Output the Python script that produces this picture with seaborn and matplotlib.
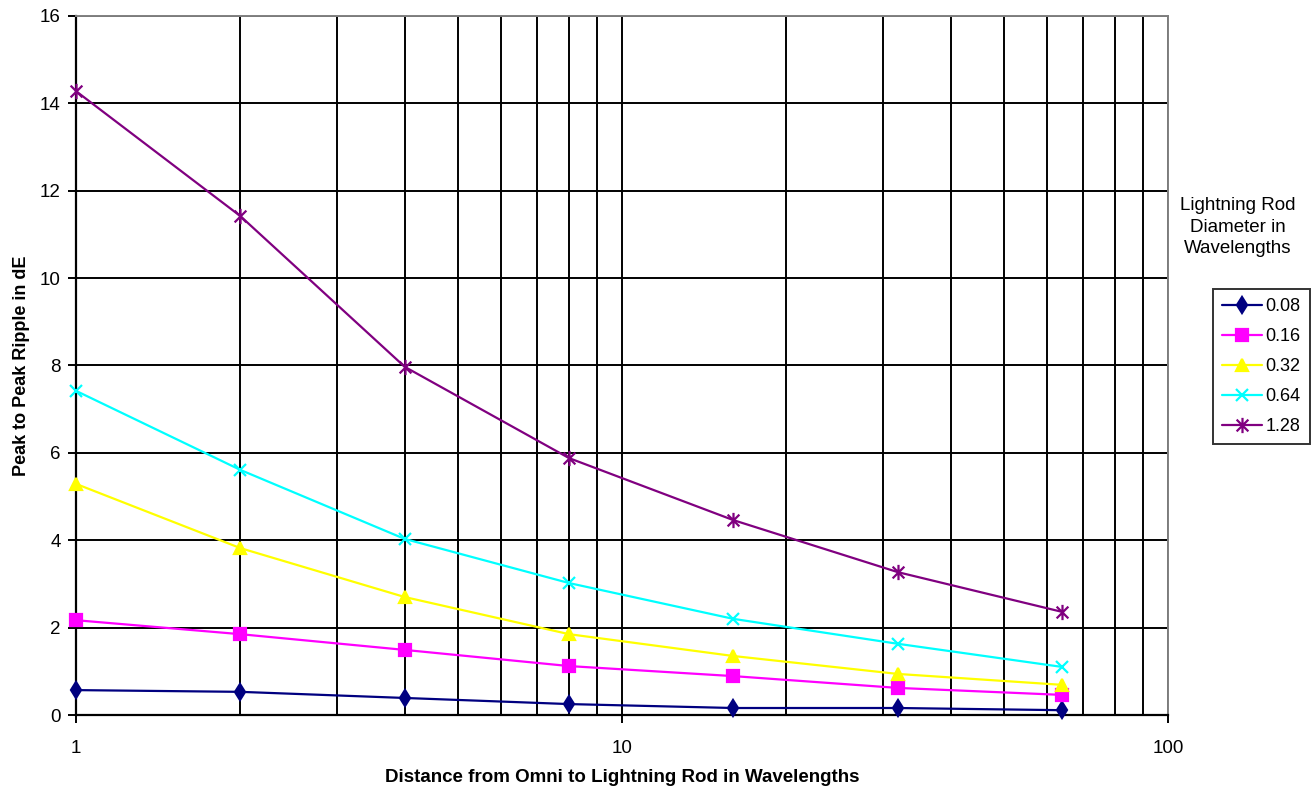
import numpy as np
import pandas as pd
import matplotlib
matplotlib.use("Agg")
import matplotlib.pyplot as plt
from matplotlib.path import Path
import seaborn as sns

distance = [1, 2, 4, 8, 16, 32, 64]
diameters = ["0.08", "0.16", "0.32", "0.64", "1.28"]
ripple_008 = [0.57, 0.53, 0.39, 0.25, 0.16, 0.16, 0.11]
ripple_016 = [2.17, 1.85, 1.49, 1.12, 0.89, 0.62, 0.46]
ripple_032 = [5.29, 3.82, 2.70, 1.85, 1.35, 0.94, 0.69]
ripple_064 = [7.42, 5.61, 4.03, 3.02, 2.20, 1.63, 1.10]
ripple_128 = [14.28, 11.42, 7.97, 5.88, 4.46, 3.27, 2.36]
y_ticks = [0, 2, 4, 6, 8, 10, 12, 14, 16]
x_tick_labels = ["1", "10", "100"]

series = [ripple_008, ripple_016, ripple_032, ripple_064, ripple_128]

sns.set_theme(style="white")
plt.rcParams["font.family"] = ["Liberation Sans", "DejaVu Sans"]
plt.rcParams["text.color"] = "black"
plt.rcParams["axes.labelcolor"] = "black"
plt.rcParams["xtick.color"] = "black"
plt.rcParams["ytick.color"] = "black"

# Excel-style star marker: X with a vertical bar
star = Path([(-1, -1), (1, 1), (-1, 1), (1, -1), (0, -1.3), (0, 1.3)],
            [Path.MOVETO, Path.LINETO, Path.MOVETO, Path.LINETO, Path.MOVETO, Path.LINETO])

colors = ["#000080", "#FF00FF", "#FFFF00", "#00FFFF", "#800080"]
markers = ["d", "s", "^", "x", star]
msizes = [8, 8, 9, 9, 11]

fig = plt.figure(figsize=(13.16, 7.90), dpi=100)
ax = fig.add_axes([76/1316, 75/790, (1168-76)/1316, (715-16)/790])

for d, vals, c, m, ms in zip(diameters, series, colors, markers, msizes):
    df = pd.DataFrame({"Distance": distance, "Ripple": vals})
    sns.lineplot(data=df, x="Distance", y="Ripple", color=c, marker=m,
                 markersize=ms, markeredgewidth=1.6, markeredgecolor=c,
                 markerfacecolor=c, linewidth=1.6, label=d, ax=ax, zorder=3,
                 clip_on=False)

ax.set_xscale("log")
ax.set_xlim(1, 100)
ax.set_ylim(0, 16)
ax.set_yticks(y_ticks)
ax.set_xticks([1, 10, 100])
ax.set_xticklabels(x_tick_labels)
ax.xaxis.set_minor_locator(matplotlib.ticker.LogLocator(base=10, subs=np.arange(2, 10)))
ax.xaxis.set_minor_formatter(matplotlib.ticker.NullFormatter())

ax.grid(True, which="both", axis="x", color="black", linewidth=1.4)
ax.grid(True, which="major", axis="y", color="black", linewidth=1.4)
ax.set_axisbelow(True)

for s in ["left", "bottom"]:
    ax.spines[s].set_color("black")
    ax.spines[s].set_linewidth(1.6)
for s in ["top", "right"]:
    ax.spines[s].set_color("#808080")
    ax.spines[s].set_linewidth(1.4)

ax.tick_params(axis="both", which="major", direction="out", length=6, width=1.4,
               color="black", labelsize=13.5, bottom=True, left=True)
ax.tick_params(axis="x", which="major", pad=12)
ax.tick_params(axis="y", which="major", pad=5)
ax.tick_params(axis="x", which="minor", length=0)

ax.set_xlabel("Distance from Omni to Lightning Rod in Wavelengths",
              fontsize=13.5, fontweight="bold", labelpad=9)
ax.set_ylabel("Peak to Peak Ripple in dE", fontsize=13, fontweight="bold", labelpad=7)

handles, labels = ax.get_legend_handles_labels()
ax.legend_.remove()
leg = fig.legend(handles, labels, loc="upper left", bbox_to_anchor=(1213/1316, 1 - 289/790),
                 frameon=True, fancybox=False, edgecolor="black", fontsize=13,
                 handlelength=2.2, handletextpad=0.2, borderpad=0.5, labelspacing=0.72,
                 borderaxespad=0)
leg.get_frame().set_linewidth(1.4)

fig.text(1238/1316, 1 - 227/790, "Lightning Rod\nDiameter in\nWavelengths",
         ha="center", va="center", fontsize=13.5, linespacing=1.35)

fig.savefig("out.png", dpi=100)
